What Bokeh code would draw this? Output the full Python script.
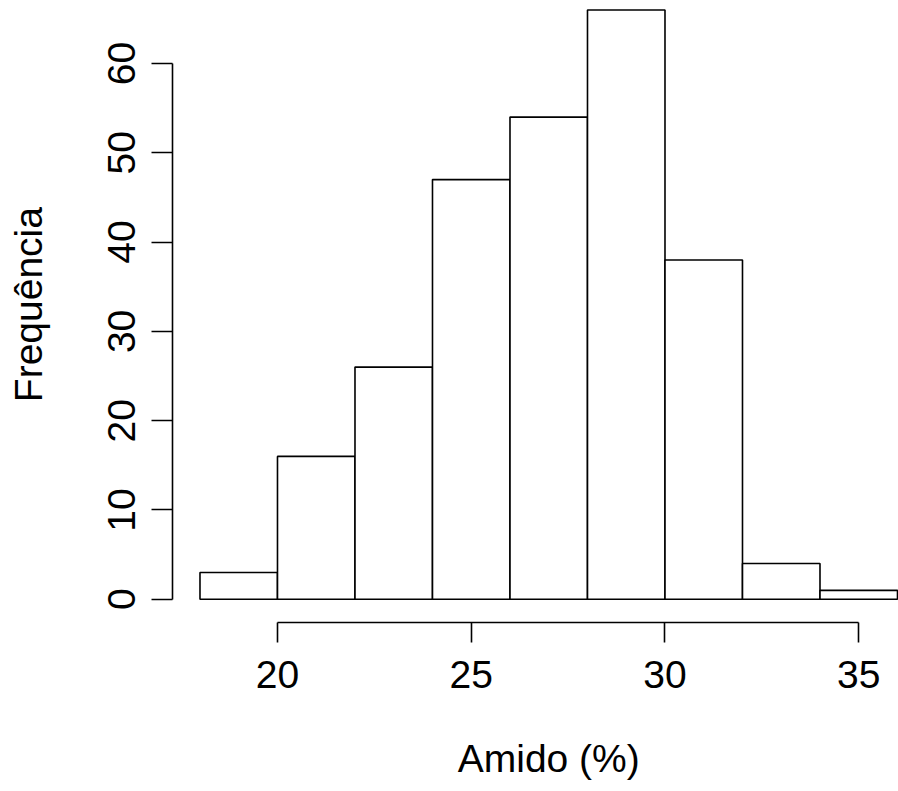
import math
from bokeh.plotting import figure
from bokeh.models import Range1d, LinearAxis, FixedTicker, Label
from bokeh.embed import file_html
from bokeh.resources import INLINE

# Histogram data: bin edges (Amido %) and counts (Frequência)
bin_left = [18, 20, 22, 24, 26, 28, 30, 32, 34]
bin_right = [20, 22, 24, 26, 28, 30, 32, 34, 36]
counts = [3, 16, 26, 47, 54, 66, 38, 4, 1]
x_ticks = [20, 25, 30, 35]
y_ticks = [0, 10, 20, 30, 40, 50, 60]
x_label = "Amido (%)"
y_label = "Frequência"

FONT = "Liberation Sans"
FS = "39px"
LW = 1.6

# The frame covers the whole canvas; axes are drawn at fixed positions (R style, detached)
p = figure(width=898, height=791, output_backend="svg", toolbar_location=None,
           x_range=Range1d(12.852, 36.026), y_range=Range1d(-21.53, 67.06),
           x_axis_type=None, y_axis_type=None,
           min_border_left=0, min_border_bottom=0, min_border_top=0, min_border_right=0)
p.outline_line_color = None
p.grid.visible = False
p.background_fill_color = "white"
p.border_fill_color = "white"

p.quad(left=bin_left, right=bin_right, top=counts, bottom=0,
       fill_color="white", line_color="black", line_width=LW)

xaxis = LinearAxis(ticker=FixedTicker(ticks=x_ticks), bounds=(x_ticks[0], x_ticks[-1]),
                   fixed_location=-2.61)
yaxis = LinearAxis(ticker=FixedTicker(ticks=y_ticks), bounds=(y_ticks[0], y_ticks[-1]),
                   major_label_orientation="vertical", fixed_location=17.29)
for ax, tick_len in ((xaxis, 20), (yaxis, 21)):
    ax.axis_line_color = "black"
    ax.axis_line_width = LW
    ax.major_tick_line_color = "black"
    ax.major_tick_line_width = LW
    ax.major_tick_out = tick_len
    ax.major_tick_in = 0
    ax.minor_tick_line_color = None
    ax.major_label_text_font = FONT
    ax.major_label_text_font_size = FS
    ax.major_label_text_color = "black"
xaxis.major_label_standoff = 18
yaxis.major_label_standoff = 16
p.add_layout(xaxis, "below")
p.add_layout(yaxis, "left")

# Axis titles centred on the R plot region
x_mid = (bin_left[0] + bin_right[-1]) / 2
y_mid = max(counts) / 2
p.add_layout(Label(x=x_mid, y=33, x_units="data", y_units="screen", text=x_label,
                   text_align="center", text_baseline="alphabetic",
                   text_font=FONT, text_font_size=FS, text_color="black"))
p.add_layout(Label(x=28, y=y_mid, x_units="screen", y_units="data", text=y_label,
                   angle=math.pi / 2, text_align="center", text_baseline="alphabetic",
                   text_font=FONT, text_font_size=FS, text_color="black"))

open("out.html", "w").write(file_html(p, INLINE))
